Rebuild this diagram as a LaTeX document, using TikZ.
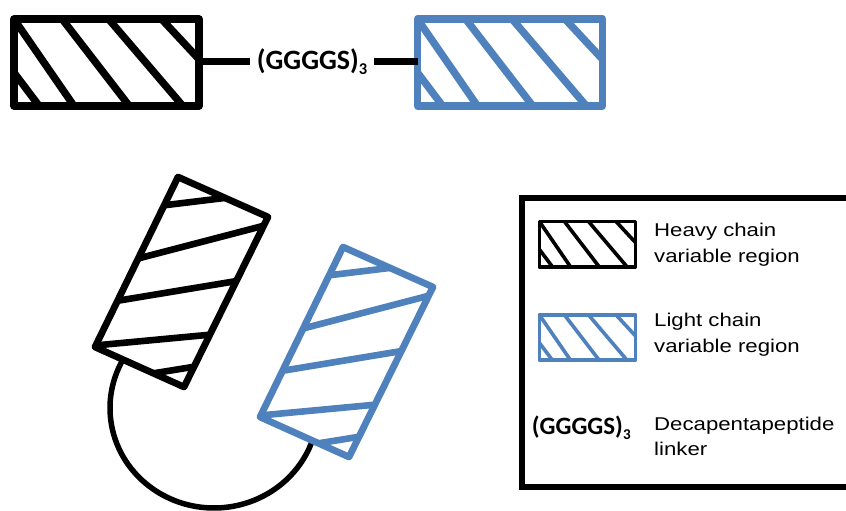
\documentclass[tikz,border=0pt]{standalone}
\usepackage{fontspec}
\newfontfamily\carlito{Carlito}
\newfontfamily\legf[FakeStretch=1.2]{Liberation Sans}
\definecolor{lblue}{RGB}{79,129,189}
\newcommand{\lksub}[2]{\raisebox{-#2}{\fontsize{#1}{#1}\selectfont 3}}
% hatched rectangle in local coordinates (185 x 87), scaled
\newcommand{\hatchbox}[6]{%
  \begin{scope}[shift={(#1,#2)}, xscale=#3, yscale=#4]
    \fill[white] (0,0) rectangle (185,87);
    \begin{scope}
      \clip (0,0) rectangle (185,87);
      \draw[#5, line width=#6]
        (-48,-10) -- (32.7,97)
        (-7,-10) -- (66.9,97)
        (40.4,-10) -- (123,97)
        (86,-10) -- (177.4,97)
        (138.2,-10) -- (237.8,97);
    \end{scope}
    \draw[#5, line width=#6, line join=round] (0,0) rectangle (185,87);
  \end{scope}}
% rotated hatched rectangle (absolute coordinates of the black one, shifted)
\newcommand{\rotbox}[3]{%
  \begin{scope}[shift={(#1,#2)}]
    \fill[white] (268,217) -- (184,387) -- (95,347) -- (178,177) -- cycle;
    \begin{scope}
      \clip (268,217) -- (184,387) -- (95,347) -- (178,177) -- cycle;
      \draw[#3, line width=6.6]
        (146.7,207.4) -- (241.7,195.9)
        (87.5,271.7) -- (317.5,211.7)
        (68,309) -- (288,272.5)
        (47,350) -- (260,330)
        (112,380) -- (236,360);
    \end{scope}
    \draw[#3, line width=6.8, line join=round] (268,217) -- (184,387) -- (95,347) -- (178,177) -- cycle;
  \end{scope}}
\tikzset{
  linker/.style={line width=7pt},
  legtext/.style={font=\legf\fontsize{18.5}{22}\selectfont, anchor=base west, inner sep=0pt, text=black},
}
\begin{document}
\begin{tikzpicture}[x=1pt,y=-1pt]
\useasboundingbox (0,0) rectangle (846,511);
\clip (0,0) rectangle (846,511);

% top row
\hatchbox{14}{19}{1}{1}{black}{7.4}
\hatchbox{417.5}{19}{1}{1}{lblue}{7.4}
\coordinate (hR) at (199,62);
\coordinate (lL) at (417.5,62);
\node[font=\carlito\bfseries\fontsize{28}{30}\selectfont, anchor=base west, inner xsep=6.5pt, inner ysep=0pt] (lk) at (250.2,70) {(GGGGS)\lksub{16.5pt}{5pt}};
\draw[linker] (hR) -- (hR -| lk.west);
\draw[linker] (lk.east |- lL) -- (lL);

% folded scFv
\coordinate (arcS) at (214,408);
\draw[line width=5.5] (arcS) ++(215:104 and 100) arc[start angle=215, end angle=15, x radius=104, y radius=100];
\rotbox{0}{0}{black}
\rotbox{165}{70}{lblue}

% legend
\draw[line width=6] (522,198) rectangle (852,486.5);
\hatchbox{539.3}{221.3}{0.519}{0.522}{black}{3.6}
\hatchbox{539.3}{314.7}{0.519}{0.522}{lblue}{3.6}
\node[legtext] (hv1) at (654,236.7) {Heavy chain};
\node[legtext] (hv2) at (654,262.7) {variable region};
\node[legtext] (lt1) at (654,326.7) {Light chain};
\node[legtext] (lt2) at (654,352.7) {variable region};
\node[legtext] (dc1) at (654,430.5) {Decapentapeptide};
\node[legtext] (dc2) at (654,455.7) {linker};
\node[font=\carlito\bfseries\fontsize{25}{28}\selectfont, anchor=base west, inner sep=0pt] (lk2) at (531.7,434.5) {(GGGGS)\lksub{15pt}{4.5pt}};
\end{tikzpicture}
\end{document}
